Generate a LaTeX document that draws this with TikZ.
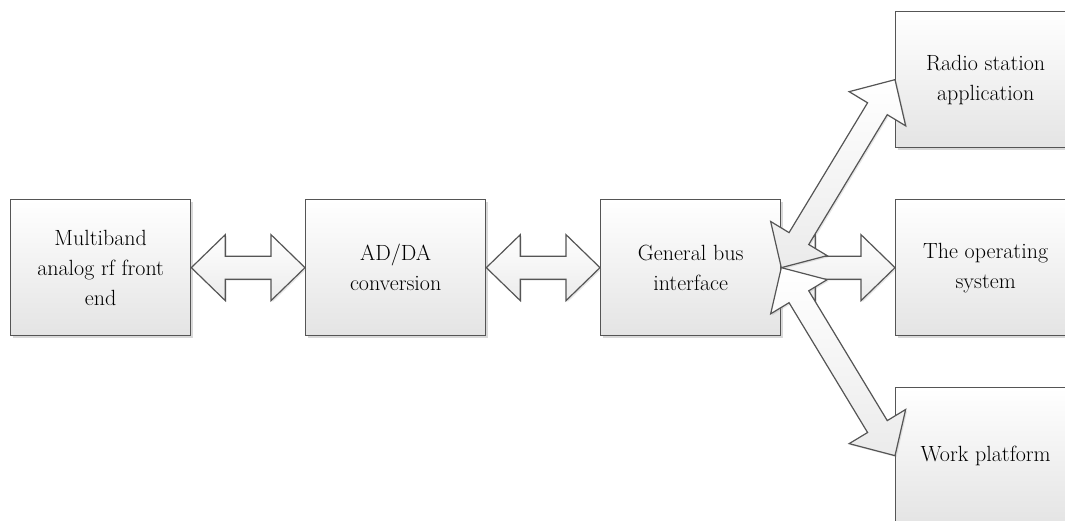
\documentclass[tikz,border=0pt]{standalone}
\usetikzlibrary{calc,shadows}
\definecolor{boxline}{HTML}{555555}
\definecolor{boxfill}{HTML}{E4E4E4}
\definecolor{arrowfill}{HTML}{EBEBEB}
\tikzset{
  block/.style={draw=boxline, line width=1.3pt, top color=white, bottom color=boxfill,
    minimum width=180pt, minimum height=136pt, inner sep=0pt, anchor=north west,
    align=center, font=\rmfamily\fontsize{22}{30}\selectfont,
    drop shadow={shadow xshift=2pt, shadow yshift=-2pt, opacity=0.3, fill=gray}},
  fatarrow/.style={draw=boxline, line width=1.2pt, line join=miter,
    top color=white, bottom color=arrowfill,
    drop shadow={shadow xshift=1.5pt, shadow yshift=-1.5pt, opacity=0.2, fill=gray}},
}
% double-headed block arrow between two named points
\newcommand\fatlink[2]{%
  \path[fatarrow] (#1)
    -- ($(#1)!34pt!(#2)!33pt!90:(#2)$)
    -- ($(#1)!34pt!(#2)!11.5pt!90:(#2)$)
    -- ($(#2)!34pt!(#1)!11.5pt!-90:(#1)$)
    -- ($(#2)!34pt!(#1)!33pt!-90:(#1)$)
    -- (#2)
    -- ($(#2)!34pt!(#1)!33pt!90:(#1)$)
    -- ($(#2)!34pt!(#1)!11.5pt!90:(#1)$)
    -- ($(#1)!34pt!(#2)!11.5pt!-90:(#2)$)
    -- ($(#1)!34pt!(#2)!33pt!-90:(#2)$)
    -- cycle;}
\begin{document}
\begin{tikzpicture}[x=1pt, y=-1pt]
  \useasboundingbox (0,0) rectangle (1065,520);
  \clip (0,0) rectangle (1065,520);

  \node[block] (rf)    at (10,199)  {Multiband\\analog rf front\\end};
  \node[block] (adda)  at (305,199) {AD/DA\\conversion};
  \node[block] (bus)   at (600,199) {General bus\\interface};
  \node[block] (radio) at (895,11)  {Radio station\\application};
  \node[block] (os)    at (895,199) {The operating\\system};
  \node[block] (work)  at (895,387) {Work platform};

  \fatlink{rf.east}{adda.west}
  \fatlink{adda.east}{bus.west}
  \fatlink{bus.east}{os.west}
  \fatlink{bus.east}{radio.west}
  \fatlink{bus.east}{work.west}
\end{tikzpicture}
\end{document}
